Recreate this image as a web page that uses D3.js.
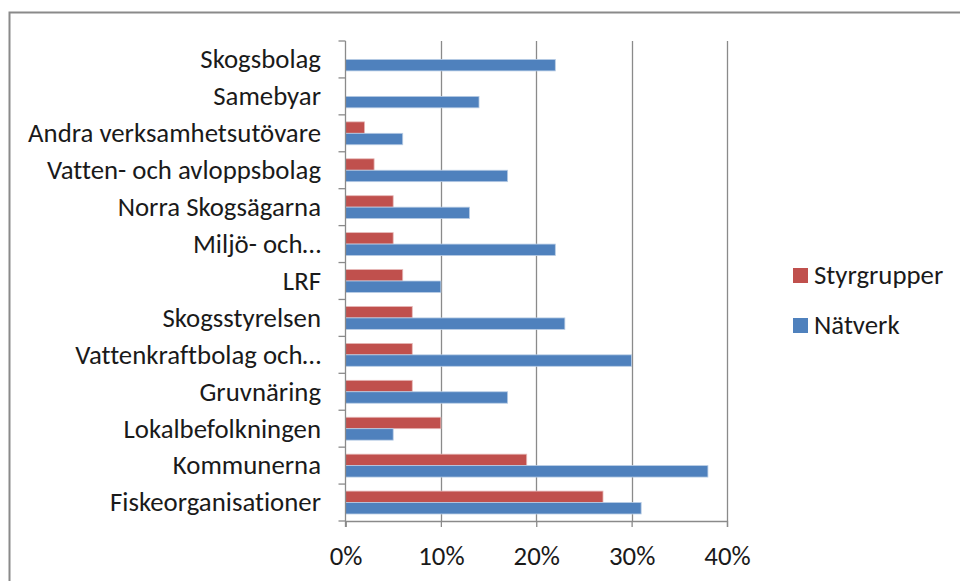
<!DOCTYPE html>
<html>
<head>
<meta charset="utf-8">
<script src="https://cdn.jsdelivr.net/npm/d3@7"></script>
<style>
  body { margin: 0; background: #fff; }
  text { font-family: "Carlito", "Lato", sans-serif; fill: #1a1a1a; font-variant-ligatures: none; }
</style>
</head>
<body>
<div id="chart"></div>
<script>
// categories, top to bottom as in the picture
const categories = ["Skogsbolag", "Samebyar", "Andra verksamhetsutövare", "Vatten- och avloppsbolag",
  "Norra Skogsägarna", "Miljö- och…", "LRF", "Skogsstyrelsen", "Vattenkraftbolag och…",
  "Gruvnäring", "Lokalbefolkningen", "Kommunerna", "Fiskeorganisationer"];
const seriesNames = ["Styrgrupper", "Nätverk"];
const styrgrupper = [0, 0, 0.02, 0.03, 0.05, 0.05, 0.06, 0.07, 0.07, 0.07, 0.10, 0.19, 0.27];
const natverk = [0.22, 0.14, 0.06, 0.17, 0.13, 0.22, 0.10, 0.23, 0.30, 0.17, 0.05, 0.38, 0.31];
const xTicks = [0, 0.1, 0.2, 0.3, 0.4];
const colors = ["#C0504D", "#4F81BD"];

const W = 960, H = 581;
const fontSize = "26.8px";
const svg = d3.select("#chart").append("svg").attr("width", W).attr("height", H);

// outer chart border (runs off the right and bottom edge)
svg.append("rect").attr("x", 9.5).attr("y", 12.5).attr("width", 1000).attr("height", 1000)
  .attr("fill", "none").attr("stroke", "#8a8a8a").attr("stroke-width", 2);

const plotLeft = 345.5, plotRight = 727, plotTop = 41, plotBottom = 521;

const x = d3.scaleLinear().domain([0, 0.4]).range([plotLeft, plotRight]);
const y = d3.scaleBand().domain(categories).range([plotTop, plotBottom]).paddingInner(0.38).paddingOuter(0.19);
const ySub = d3.scaleBand().domain(seriesNames).range([0, y.bandwidth()]);

const data = categories.map((c, i) => ({ cat: c, vals: [styrgrupper[i], natverk[i]] }));

// gridlines
svg.append("g").selectAll("line").data(xTicks.slice(1)).enter().append("line")
  .attr("x1", d => Math.round(x(d)) + 0.5).attr("x2", d => Math.round(x(d)) + 0.5)
  .attr("y1", plotTop).attr("y2", plotBottom)
  .attr("stroke", "#8a8a8a").attr("stroke-width", 1.3);

// bars
const groups = svg.append("g").selectAll("g").data(data).enter().append("g")
  .attr("transform", d => "translate(0," + y(d.cat) + ")");
groups.selectAll("rect").data(d => d.vals.map((v, j) => ({ v: v, s: seriesNames[j], j: j })))
  .enter().append("rect")
  .attr("x", x(0))
  .attr("y", d => ySub(d.s))
  .attr("width", d => x(d.v) - x(0))
  .attr("height", ySub.bandwidth())
  .attr("fill", d => colors[d.j])
  .attr("stroke", d => d.v > 0 ? (d.j == 0 ? "#e6b9b8" : "#b9cde5") : "none")
  .attr("stroke-width", 0.8);

// x axis
const xAxis = svg.append("g").attr("transform", "translate(0," + plotBottom + ")")
  .call(d3.axisBottom(x).tickValues(xTicks).tickFormat(d3.format(".0%")).tickSize(6).tickPadding(19));
xAxis.select(".domain").attr("stroke", "#8a8a8a").attr("stroke-width", 1.3);
xAxis.selectAll(".tick line").attr("stroke", "#8a8a8a").attr("stroke-width", 1.3);
xAxis.selectAll(".tick text").style("font-size", fontSize).style("font-family", null).attr("fill", "#1a1a1a");

// y axis line and ticks between categories
const yAxis = svg.append("g");
yAxis.append("line").attr("x1", plotLeft).attr("x2", plotLeft).attr("y1", plotTop).attr("y2", plotBottom + 6)
  .attr("stroke", "#8a8a8a").attr("stroke-width", 1.3);
const bounds = categories.map(c => y(c) - y.step() * y.paddingInner() / 2).concat([plotBottom]);
yAxis.selectAll(".yt").data(bounds).enter().append("line")
  .attr("x1", plotLeft - 7).attr("x2", plotLeft).attr("y1", d => d).attr("y2", d => d)
  .attr("stroke", "#8a8a8a").attr("stroke-width", 1.3);
yAxis.selectAll("text").data(categories).enter().append("text")
  .attr("x", 321).attr("y", d => y(d) + y.bandwidth() / 2)
  .attr("dy", "0.33em").attr("text-anchor", "end")
  .style("font-size", fontSize).text(d => d);

// legend
const legend = svg.append("g").selectAll("g").data(seriesNames).enter().append("g")
  .attr("transform", (d, i) => "translate(793," + (268 + i * 50) + ")");
legend.append("rect").attr("width", 15).attr("height", 15).attr("fill", (d, i) => colors[i]);
legend.append("text").attr("x", 21).attr("y", 16)
  .style("font-size", fontSize).text(d => d);
</script>
</body>
</html>
